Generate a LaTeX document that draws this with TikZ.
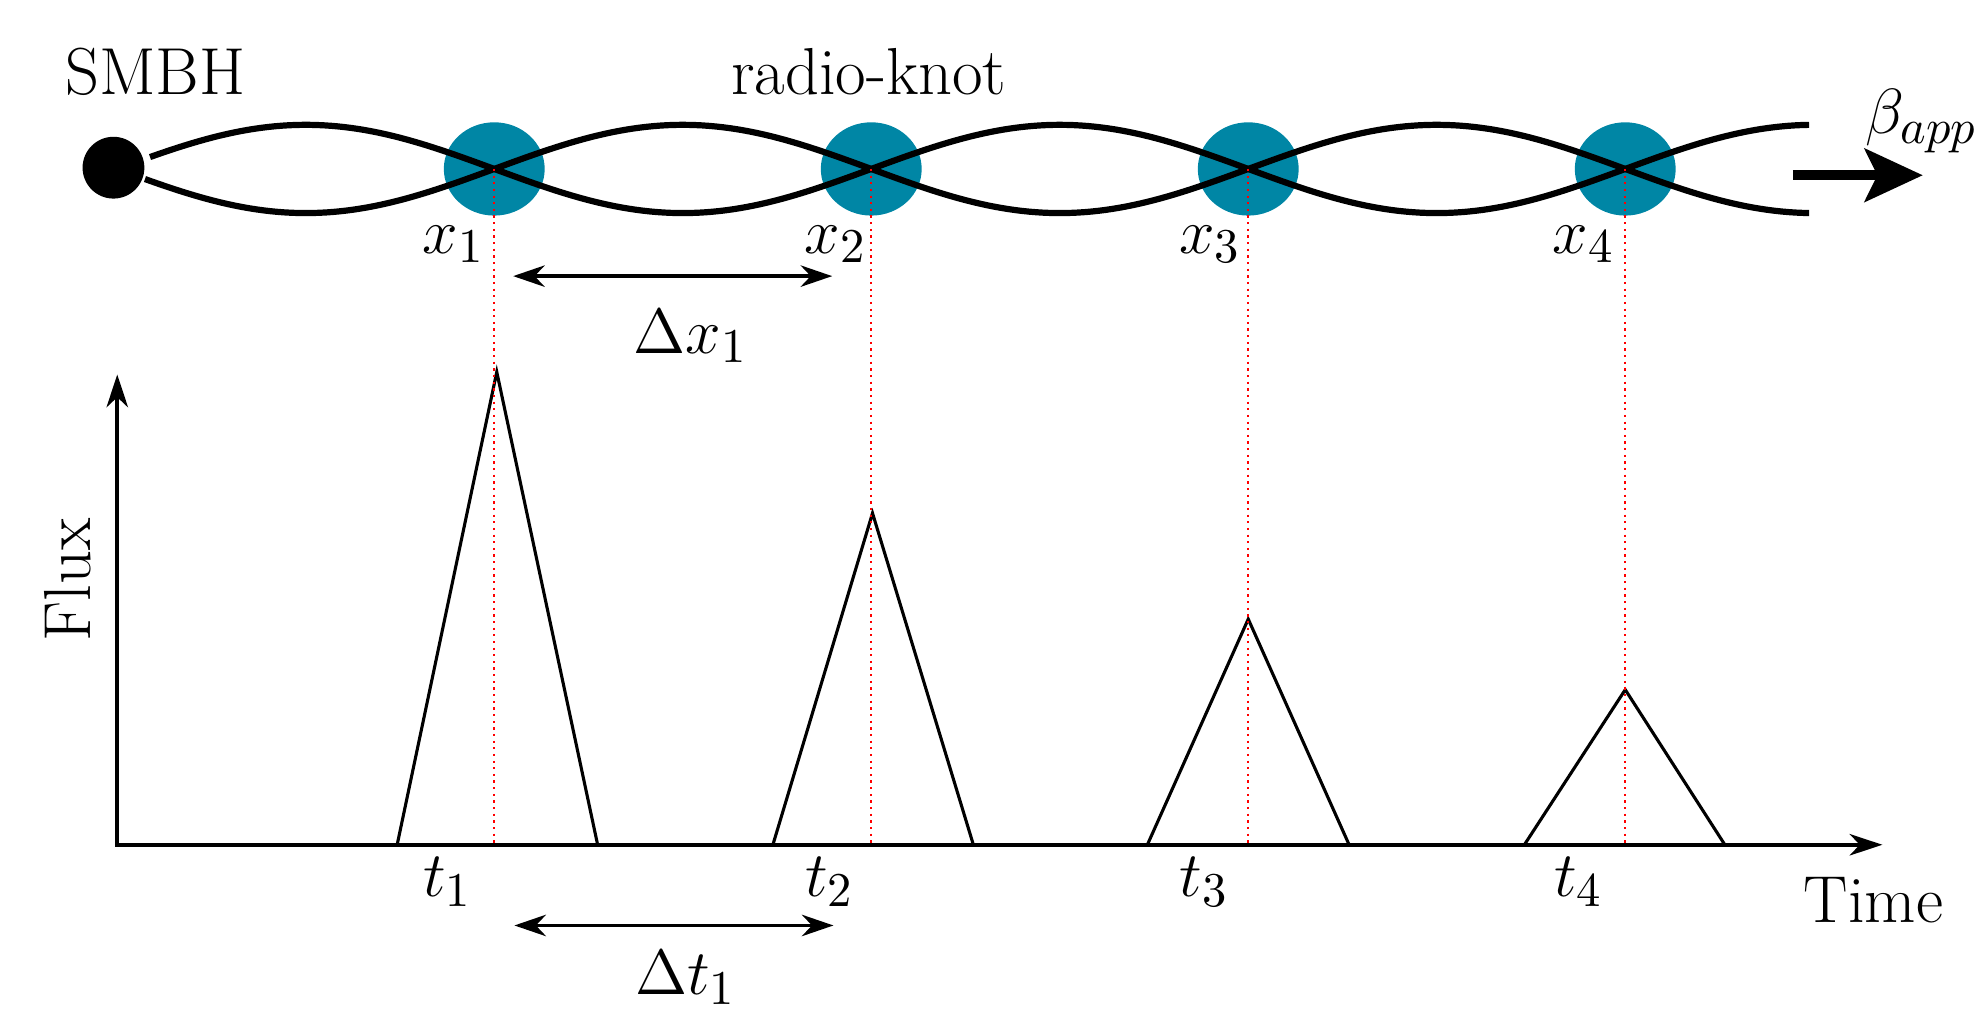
\documentclass[tikz,border=0pt]{standalone}
\usetikzlibrary{arrows.meta,shapes.geometric}
\definecolor{knotteal}{RGB}{0,134,165}
\begin{document}
\begin{tikzpicture}[
    font=\fontsize{15}{18}\selectfont,
    radioknot/.style={ellipse, fill=knotteal, minimum width=0.80cm,
                      minimum height=0.74cm, inner sep=0pt},
    bh/.style={circle, fill=black, minimum size=0.49cm, inner sep=0pt},
    strand/.style={line width=1.4pt, black},
    guide/.style={red, densely dotted, line width=0.5pt},
    axisarr/.style={{Stealth[length=2.6mm,width=1.7mm,inset=0.8mm]}-{Stealth[length=2.6mm,width=1.7mm,inset=0.8mm]},
                    line width=0.9pt},
    peak/.style={line width=0.7pt},
    span/.style={{Stealth[length=2.5mm,width=1.7mm,inset=0.8mm]}-{Stealth[length=2.5mm,width=1.7mm,inset=0.8mm]},
                 line width=0.8pt},
    jet/.style={-{Stealth[length=4.6mm,width=4.2mm,inset=1mm]}, line width=2.2pt},
    lbl/.style={anchor=base},
]
\useasboundingbox (-0.93,-1.32) rectangle (14.75,6.70);

% Black hole and knots
\node[bh] (smbh) at (-0.03,5.37) {};
\node[radioknot] (k1) at (2.99,5.36) {};
\node[radioknot] (k2) at (5.98,5.36) {};
\node[radioknot] (k3) at (8.97,5.36) {};
\node[radioknot] (k4) at (11.96,5.36) {};

% Twisted jet strands
\draw[strand] plot[domain=0.26:13.42, samples=240] (\x, {5.36+0.35*sin(180*\x/2.99)});
\draw[strand] plot[domain=0.22:13.42, samples=240] (\x, {5.36-0.35*sin(180*\x/2.99)});

% Jet direction
\coordinate (jet0) at (13.29,5.31);
\coordinate (jet1) at (14.32,5.31);
\draw[jet] (jet0) -- (jet1);

% Axes
\coordinate (O)    at (0,0);
\coordinate (ytop) at (0,3.73);
\coordinate (xend) at (14.00,0);
\draw[axisarr] (ytop) -- (O) -- (xend);

% Flares
\draw[peak] (2.22,0) -- (3.01,3.75) -- (3.81,0);
\draw[peak] (5.20,0) -- (5.99,2.63) -- (6.79,0);
\draw[peak] (8.17,0) -- (8.97,1.79) -- (9.77,0);
\draw[peak] (11.16,0) -- (11.96,1.23) -- (12.75,0);

% Knot positions down to the time axis
\coordinate (b1) at (2.99,0);
\coordinate (b2) at (5.98,0);
\coordinate (b3) at (8.97,0);
\coordinate (b4) at (11.96,0);
\draw[guide] (k1.center) -- (b1);
\draw[guide] (k2.center) -- (b2);
\draw[guide] (k3.center) -- (b3);
\draw[guide] (k4.center) -- (b4);

% Separations
\coordinate (dxa) at (3.14,4.51);
\coordinate (dxb) at (5.67,4.51);
\draw[span] (dxa) -- (dxb);
\coordinate (dta) at (3.15,-0.64);
\coordinate (dtb) at (5.68,-0.64);
\draw[span] (dta) -- (dtb);

% Labels
\node[lbl] (lsmbh) at (0.30,5.95) {SMBH};
\node[lbl] (lknot) at (5.96,5.95) {radio-knot};
\node[lbl, anchor=base west] (lbeta) at (13.74,5.64) {$\beta_{app}$};
\node[lbl] (x1) at (2.67,4.69) {$x_1$};
\node[lbl] (x2) at (5.70,4.69) {$x_2$};
\node[lbl] (x3) at (8.67,4.69) {$x_3$};
\node[lbl] (x4) at (11.63,4.69) {$x_4$};
\node[lbl] (ldx) at (4.55,3.90) {$\Delta x_1$};
\node[lbl] (t1) at (2.62,-0.41) {$t_1$};
\node[lbl] (t2) at (5.65,-0.41) {$t_2$};
\node[lbl] (t3) at (8.62,-0.41) {$t_3$};
\node[lbl] (t4) at (11.59,-0.41) {$t_4$};
\node[lbl] (ldt) at (4.51,-1.19) {$\Delta t_1$};
\node[lbl] (ltime) at (13.93,-0.62) {Time};
\node[rotate=90] (lflux) at (-0.395,2.10) {Flux};

\end{tikzpicture}
\end{document}
